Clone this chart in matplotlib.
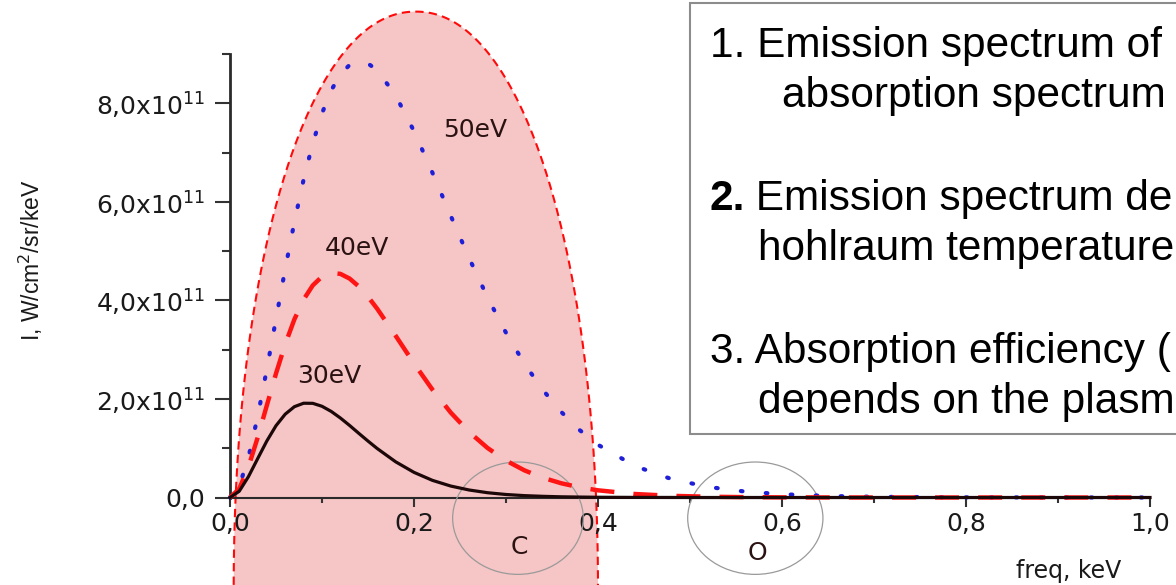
#!/usr/bin/env python3
"""
Blackbody-like emission spectra of a hohlraum at 30, 40 and 50 eV,
with the carbon and oxygen absorption edges marked, plus a side note box.
"""

import numpy as np
import matplotlib
matplotlib.use("Agg")
import matplotlib.pyplot as plt
from matplotlib import patches
from matplotlib.path import Path

# Photon energy grid, keV
freq = [0.0, 0.01, 0.02, 0.03, 0.04, 0.05, 0.06, 0.07, 0.08, 0.09,
        0.10, 0.11, 0.12, 0.13, 0.14, 0.15, 0.16, 0.18, 0.20, 0.22,
        0.24, 0.26, 0.28, 0.30, 0.32, 0.34, 0.36, 0.38, 0.40, 0.44,
        0.48, 0.52, 0.56, 0.60, 0.65, 0.70, 0.80, 0.90, 1.00]

# Intensity in units of 1e11 W/cm^2/sr/keV
intensity_30ev = [0.0, 0.126, 0.422, 0.786, 1.146, 1.457, 1.691, 1.843, 1.913, 1.911,
                  1.851, 1.747, 1.613, 1.462, 1.302, 1.145, 0.994, 0.725, 0.510, 0.348,
                  0.232, 0.152, 0.097, 0.061, 0.038, 0.024, 0.014, 0.009, 0.005, 0.002,
                  0.001, 0.0, 0.0, 0.0, 0.0, 0.0, 0.0, 0.0, 0.0]
intensity_40ev = [0.0, 0.177, 0.618, 1.212, 1.867, 2.516, 3.110, 3.616, 4.017, 4.305,
                  4.483, 4.557, 4.538, 4.443, 4.283, 4.074, 3.830, 3.284, 2.720, 2.190,
                  1.722, 1.327, 1.004, 0.749, 0.551, 0.401, 0.289, 0.206, 0.146, 0.071,
                  0.034, 0.016, 0.007, 0.003, 0.001, 0.0, 0.0, 0.0, 0.0]
intensity_50ev = [0.0, 0.225, 0.810, 1.636, 2.601, 3.624, 4.637, 5.592, 6.451, 7.191,
                  7.795, 8.261, 8.587, 8.779, 8.849, 8.807, 8.670, 8.160, 7.434, 6.592,
                  5.714, 4.855, 4.058, 3.343, 2.716, 2.183, 1.737, 1.369, 1.070, 0.640,
                  0.373, 0.213, 0.120, 0.066, 0.031, 0.014, 0.003, 0.001, 0.0]

curve_labels = ["30eV", "40eV", "50eV"]

x_ticks = [0.0, 0.2, 0.4, 0.6, 0.8, 1.0]
x_tick_labels = ["0,0", "0,2", "0,4", "0,6", "0,8", "1,0"]
y_ticks = [0, 2, 4, 6, 8]
y_tick_labels = ["0,0", r"2,0x10$^{11}$", r"4,0x10$^{11}$",
                 r"6,0x10$^{11}$", r"8,0x10$^{11}$"]

edge_labels = ["C", "O"]

notes = [
    "1. Emission spectrum of",
    "absorption spectrum",
    " Emission spectrum de",
    "hohlraum temperature",
    "3. Absorption efficiency (",
    "depends on the plasm",
]

W, H = 1176, 585


def fig_xy(px, py):
    """Pixel position (from top-left) to figure fraction."""
    return px / W, 1 - py / H


def superellipse(cx, cy, a, b, n=2.1, num=400):
    t = np.linspace(0, 2 * np.pi, num)
    c, s = np.cos(t), np.sin(t)
    xs = cx + a * np.sign(c) * np.abs(c) ** (2 / n)
    ys = cy + b * np.sign(s) * np.abs(s) ** (2 / n)
    return Path(np.column_stack([xs, ys]), closed=True)


def draw_spectra(ax):
    # shaded window below 0.4 keV
    window = patches.PathPatch(superellipse(0.202, -1.92, 0.198, 11.78),
                               facecolor="#f6c5c5", edgecolor="#ff0a0a",
                               linewidth=1.5, linestyle=(0, (4, 2.5)),
                               clip_on=False, zorder=0)
    ax.add_patch(window)

    ax.plot(freq, intensity_50ev, color="#1f1fd8", linewidth=3.0,
            linestyle=(0, (0.4, 5.6)), dash_capstyle="round",
            clip_on=False, zorder=4)
    ax.plot(freq, intensity_40ev, color="#ff1414", linewidth=3.2,
            linestyle=(0, (5.4, 4.3)), clip_on=False, zorder=5)
    ax.plot(freq, intensity_30ev, color="#1c0808", linewidth=2.3,
            clip_on=False, zorder=6)

    label_kw = dict(fontsize=18, color="#2b1212", ha="center", va="center",
                    family="DejaVu Sans", zorder=7)
    ax.text(0.108, 2.47, curve_labels[0], **label_kw)
    ax.text(0.138, 5.07, curve_labels[1], **label_kw)
    ax.text(0.267, 7.46, curve_labels[2], **label_kw)

    # absorption edges of carbon and oxygen
    for cx, cy, w, text_y, name in [(0.313, -0.42, 0.142, -1.0, edge_labels[0]),
                                    (0.571, -0.42, 0.147, -1.13, edge_labels[1])]:
        ring = patches.Ellipse((cx, cy), w, 2.28, facecolor="none",
                               edgecolor="#9a9a9a", linewidth=0.9,
                               clip_on=False, zorder=3)
        ax.add_patch(ring)
        ax.text(cx + 0.002, text_y, name, fontsize=18, color="#2b1212",
                ha="center", va="center", family="DejaVu Sans")


def style_axes(ax):
    ax.set_xlim(0, 1.0)
    ax.set_ylim(0, 9)
    ax.set_facecolor("none")
    for side in ["top", "right"]:
        ax.spines[side].set_visible(False)
    ax.spines["left"].set_linewidth(2.0)
    ax.spines["bottom"].set_linewidth(1.5)
    ax.spines["left"].set_color("#2a2a2a")
    ax.spines["bottom"].set_color("#2a2a2a")

    ax.set_xticks(x_ticks)
    ax.set_xticklabels(x_tick_labels)
    ax.set_xticks([0.1, 0.3, 0.5, 0.7, 0.9], minor=True)
    ax.set_yticks(y_ticks)
    ax.set_yticklabels(y_tick_labels)
    ax.set_yticks([1, 3, 5, 7, 9], minor=True)

    ax.tick_params(axis="x", which="major", length=6.5, width=1.5,
                   color="#333333", pad=4, labelsize=18, labelcolor="#1a1a1a")
    ax.tick_params(axis="x", which="minor", length=3.5, width=1.5, color="#333333")
    ax.tick_params(axis="y", which="major", length=11, width=1.5,
                   color="#333333", pad=7, labelsize=18, labelcolor="#1a1a1a")
    ax.tick_params(axis="y", which="minor", length=5.5, width=1.5, color="#333333")
    for lab in ax.get_xticklabels() + ax.get_yticklabels():
        lab.set_family("DejaVu Sans")

    ax.text(0.912, -1.49, "freq, keV", fontsize=17, color="#1a1a1a",
            ha="center", va="center", family="DejaVu Sans")


def draw_notes(fig):
    x0, y0 = fig_xy(690, 434)
    x1, y1 = fig_xy(1190, 3)
    box = patches.Rectangle((x0, y0), x1 - x0, y1 - y0, transform=fig.transFigure,
                            facecolor="white", edgecolor="#8c8c8c",
                            linewidth=1.5, zorder=10)
    fig.add_artist(box)

    text_kw = dict(fontsize=30.5, color="black", va="baseline", ha="left",
                   family=["Liberation Sans", "DejaVu Sans"], zorder=11)
    positions = [(710, 57), (782, 107), (744, 210), (758, 260), (710, 363), (758, 413)]
    for line, (px, py) in zip(notes, positions):
        fig.text(*fig_xy(px, py), line, **text_kw)
    # bold item number for the second point
    fig.text(*fig_xy(710, 210), "2.", fontweight="bold", **text_kw)


def main():
    fig = plt.figure(figsize=(W / 100, H / 100), dpi=100)
    left, bottom = fig_xy(230, 497.5)
    right, top = fig_xy(1150, 54)
    ax = fig.add_axes([left, bottom, right - left, top - bottom])

    draw_spectra(ax)
    style_axes(ax)

    fig.text(*fig_xy(31, 260), "I, W/cm$^2$/sr/keV", rotation=90,
             fontsize=16.5, color="#1a1a1a", ha="center", va="center",
             family=["Liberation Sans Narrow", "Liberation Sans"])

    draw_notes(fig)
    fig.savefig("out.png", dpi=100)


if __name__ == "__main__":
    main()
